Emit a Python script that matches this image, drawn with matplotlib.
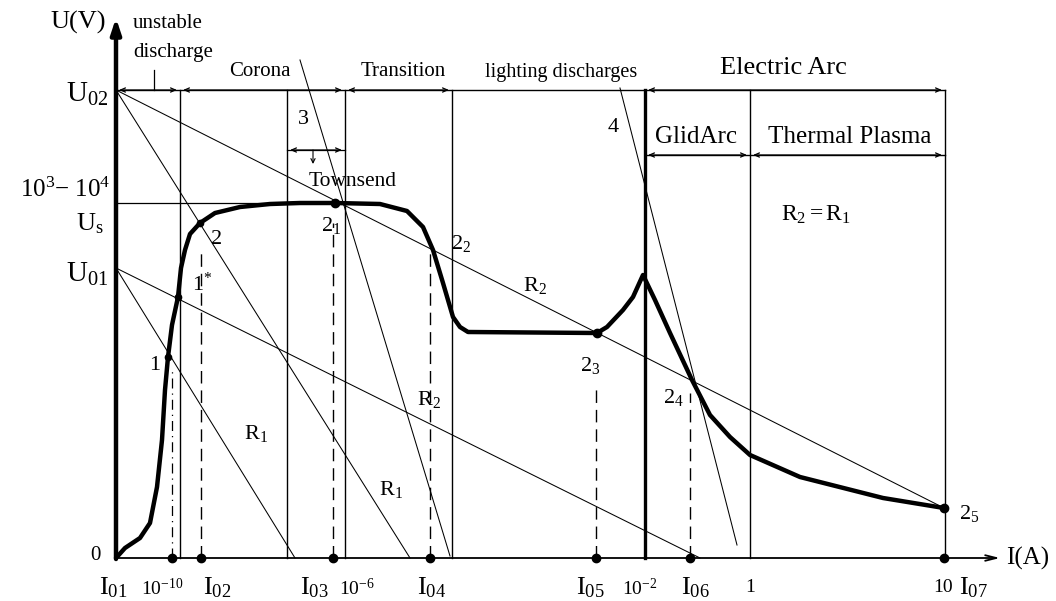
import matplotlib
matplotlib.use("Agg")
import matplotlib.pyplot as plt

plt.rcParams["font.family"] = ["Liberation Serif", "DejaVu Serif"]
plt.rcParams["mathtext.fontset"] = "custom"
plt.rcParams["mathtext.rm"] = "Liberation Serif"
plt.rcParams["mathtext.it"] = "Liberation Serif:italic"
plt.rcParams["mathtext.default"] = "rm"

# diagram units: x = current axis position, y = voltage axis position (origin at the axes crossing)
curve_x = [0, 9, 24, 34, 41, 46, 49, 52, 56, 62, 65, 69, 74, 84, 99, 124, 154, 184, 219,
           264, 291, 307, 317, 327, 337, 344, 352, 481, 491, 507, 517, 527,
           539, 554, 576, 594, 614, 634, 684, 767, 828]
curve_y = [0, 10, 20, 35, 71, 118, 168, 201, 233, 261, 290, 308, 324, 335, 345, 351, 354, 355, 355,
           354, 347, 331, 308, 275, 241, 231, 226, 225, 231, 248, 261, 283,
           258, 225, 178, 143, 121, 103, 81, 60, 50]

U02, U_TOWN, U_S, U01 = 468, 355, 336, 290

# load lines (x0, y0, x1, y1)
load_lines = [
    (0, U02, 828, 50),    # R2 through 2_1 ... 2_5
    (0, U02, 294, 0),     # R1 from U02
    (0, U01, 179, 0),     # R1 from U01
    (0, U01, 584, 0),     # shallow from U01
    (504, 470, 621, 13),  # line 4
    (184, 498, 334, 2),   # line 3 (steep R2)
]

# region boundaries
bounds_x = [64, 171, 229, 336, 634, 829]
arc_x = 529
I_TOP = 829

# operating currents on the axis and dashed projections
dot_x = [56, 85, 217, 314, 480, 574, 828]
dash_x = [85, 217, 314, 480, 574]
dash_top = [305, 335, 308, 175, 165]
dashdot_x, dashdot_top = 56, 190

tick_labels = [r"$\mathrm{I}_{01}$", r"$10^{-10}$", r"$\mathrm{I}_{02}$", r"$\mathrm{I}_{03}$",
               r"$10^{-6}$", r"$\mathrm{I}_{04}$", r"$\mathrm{I}_{05}$", r"$10^{-2}$",
               r"$\mathrm{I}_{06}$", "1", "10", r"$\mathrm{I}_{07}$"]
tick_pos = [-3, 46, 101, 198, 241, 316, 474, 524, 579, 634, 827, 857]
tick_small = [False, True, False, False, True, False, False, True, False, True, True, False]

spans_top = [(0, 64), (64, 229), (229, 336), (529, 829)]
spans_mid = [(529, 634), (634, 829)]

fig = plt.figure(figsize=(10.56, 6.01), dpi=100)
ax = fig.add_axes([0, 0, 1, 1])
ax.set_xlim(-116, 940)
ax.set_ylim(-43, 558)
ax.axis("off")

K = "black"
# axes
ax.annotate("", xy=(0, 540), xytext=(0, -1),
            arrowprops=dict(arrowstyle="-|>,head_length=0.9,head_width=0.3", lw=3.2, color=K,
                            shrinkA=0, shrinkB=0))
ax.annotate("", xy=(884, 0), xytext=(0, 0),
            arrowprops=dict(arrowstyle="->,head_length=0.8,head_width=0.2", lw=1.3, color=K,
                            shrinkA=0, shrinkB=0))

# horizontal frame lines
ax.plot([0, I_TOP], [U02, U02], color=K, lw=1.0)
ax.plot([arc_x, I_TOP], [403, 403], color=K, lw=1.0)
ax.plot([0, 219], [U_TOWN, U_TOWN], color=K, lw=0.9)
ax.plot([171, 229], [408, 408], color=K, lw=0.9)
ax.annotate("", xy=(197, 394), xytext=(197, 408),
            arrowprops=dict(arrowstyle="->,head_length=0.3,head_width=0.15", lw=0.8, color=K,
                            shrinkA=0, shrinkB=0))
ax.plot([38, 38], [U02, U02 + 20], color=K, lw=0.9)

# vertical boundaries
for bx in bounds_x:
    ax.plot([bx, bx], [0, U02], color=K, lw=1.0)
ax.plot([arc_x, arc_x], [0, U02], color=K, lw=2.4)


# span arrows
def span(x0, x1, y):
    ax.annotate("", xy=(x1 - 3, y), xytext=(x0 + 3, y),
                arrowprops=dict(arrowstyle="<->,head_length=0.35,head_width=0.15", lw=0.9,
                                color=K, shrinkA=0, shrinkB=0))


for a, b in spans_top:
    span(a, b, U02)
for a, b in spans_mid:
    span(a, b, 403)
span(171, 229, 408)

# load lines
for x0, y0, x1, y1 in load_lines:
    ax.plot([x0, x1], [y0, y1], color=K, lw=0.75)

# dashed projections
for dx, top in zip(dash_x, dash_top):
    ax.plot([dx, dx], [0, top], color=K, lw=1.0, ls=(0, (9, 5)))
ax.plot([dashdot_x, dashdot_x], [0, dashdot_top], color=K, lw=0.9, ls=(0, (8, 4, 1, 4)))

# characteristic
ax.plot(curve_x, curve_y, color=K, lw=3.2, solid_joinstyle="round", solid_capstyle="round")

# dots
ax.plot(dot_x, [0] * len(dot_x), "o", color=K, ms=6)
ax.plot([219, 481, 828], [U_TOWN, 225, 50], "o", color=K, ms=6)
ax.plot([52, 62, 84], [201, 261, 335], "o", color=K, ms=4.5)

# axis labels
ax.text(-38, 536, "U(V)", fontsize=19, ha="center", va="center")
ax.text(890, 0, "I(A)", fontsize=18, ha="left", va="center")
ax.text(-21, 2, "0", fontsize=15, ha="center", va="center")
ax.text(-8, U02 - 4, r"$\mathrm{U}_{02}$", fontsize=21, ha="right", va="center")
ax.text(-6, 368, r"$10^{3}\mathrm{-}\ 10^{4}$", fontsize=18, ha="right", va="center")
ax.text(-12, 334, r"$\mathrm{U}_{\mathrm{s}}$", fontsize=19, ha="right", va="center")
ax.text(-8, U01 - 6, r"$\mathrm{U}_{01}$", fontsize=21, ha="right", va="center")

for lbl, xp, small in zip(tick_labels, tick_pos, tick_small):
    if small:
        ax.text(xp, -30, lbl, fontsize=14, ha="center", va="center")
    else:
        ax.text(xp, -30, lbl, fontsize=19, ha="center", va="center")

# region labels
ax.text(17, 535, "unstable", fontsize=15, ha="left", va="center")
ax.text(17, 506, "discharge", fontsize=15, ha="left", va="center")
ax.text(144, 486, "Corona", fontsize=15, ha="center", va="center")
ax.text(287, 486, "Transition", fontsize=15, ha="center", va="center")
ax.text(445, 486, "lighting discharges", fontsize=14.5, ha="center", va="center")
ax.text(667, 490, "Electric Arc", fontsize=19, ha="center", va="center")
ax.text(580, 421, "GlidArc", fontsize=18, ha="center", va="center")
ax.text(734, 421, "Thermal Plasma", fontsize=18, ha="center", va="center")
ax.text(700, 343, r"$\mathrm{R}_2 = \mathrm{R}_1$", fontsize=17, ha="center", va="center")
ax.text(237, 377, "Townsend", fontsize=15.5, ha="center", va="center")

# point labels
pts = [
    (187, 438, "3"), (497, 430, "4"),
    (215, 332, r"$2_1$"), (101, 318, "2"), (86, 274, r"$1^{*}$"), (39, 193, "1"),
    (345, 314, r"$2_2$"), (474, 193, r"$2_3$"), (557, 161, r"$2_4$"), (853, 45, r"$2_5$"),
    (419, 273, r"$\mathrm{R}_2$"), (313, 159, r"$\mathrm{R}_2$"),
    (140, 124, r"$\mathrm{R}_1$"), (275, 69, r"$\mathrm{R}_1$"),
]
for x, y, s in pts:
    ax.text(x, y, s, fontsize=16, ha="center", va="center")

fig.savefig("out.png", dpi=100)
